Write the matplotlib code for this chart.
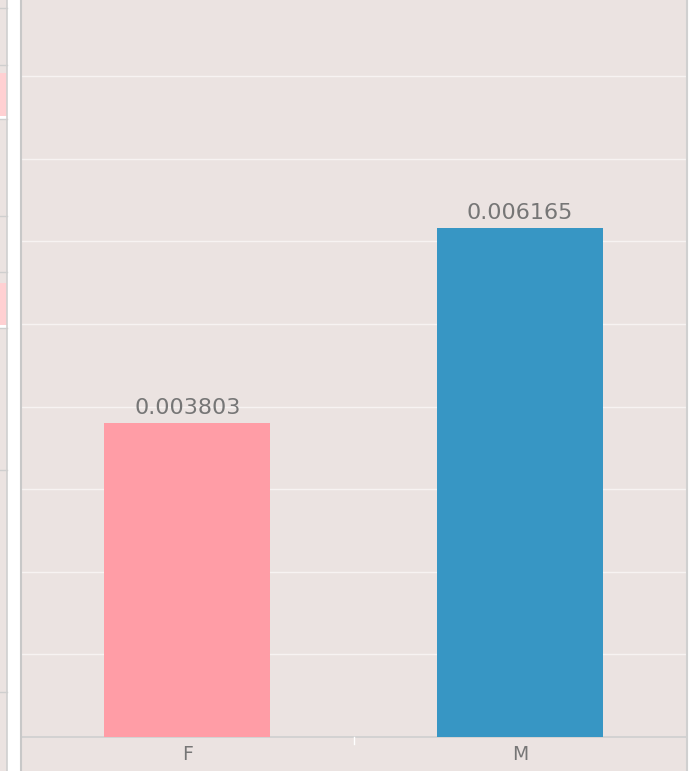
import matplotlib
matplotlib.use("Agg")
import matplotlib.pyplot as plt
from matplotlib.patches import Rectangle
from matplotlib.lines import Line2D
from matplotlib.transforms import offset_copy

categories = ["F", "M"]
values = [0.003803, 0.006165]
labels = ["0.003803", "0.006165"]
colors = ["#FF9DA6", "#3796C4"]

W, H = 695, 771
fig = plt.figure(figsize=(W / 100, H / 100), dpi=100)
fig.patch.set_facecolor("white")

def fx(px):
    return px / W

def fy(py):
    return 1 - py / H

# left strip decorations (cropped neighbouring panel)
fig.add_artist(Rectangle((0, 0), fx(7), 1, transform=fig.transFigure,
                         facecolor="#EBE3E1", edgecolor="none"))
for (y0, y1) in [(73, 116), (283, 325)]:
    fig.add_artist(Rectangle((0, fy(y1)), fx(7), fy(y0) - fy(y1), transform=fig.transFigure,
                             facecolor="#FFD0D2", edgecolor="none"))
for (y0, y1) in [(116, 119), (325, 328)]:
    fig.add_artist(Rectangle((0, fy(y1)), fx(7), fy(y0) - fy(y1), transform=fig.transFigure,
                             facecolor="white", edgecolor="none"))
for yy in [8, 65, 119, 216, 272, 328, 470, 692]:
    fig.add_artist(Line2D([0, fx(7)], [fy(yy), fy(yy)], transform=fig.transFigure,
                          color="#CFCFCF", lw=1))
fig.add_artist(Line2D([fx(6.5), fx(6.5)], [0, 1], transform=fig.transFigure, color="#CFCFCF", lw=1.2))
fig.add_artist(Rectangle((fx(7), 0), fx(13), 1, transform=fig.transFigure,
                         facecolor="white", edgecolor="none"))

# main background panel
fig.add_artist(Rectangle((fx(21), 0), fx(666), 1, transform=fig.transFigure,
                         facecolor="#EBE3E1", edgecolor="none", zorder=0))
fig.add_artist(Line2D([fx(20.5), fx(20.5)], [0, 1], transform=fig.transFigure, color="#C8C8C8", lw=1.5))
fig.add_artist(Line2D([fx(687), fx(687)], [0, 1], transform=fig.transFigure, color="#D0D0D0", lw=1.5))

ax = fig.add_axes([fx(21), fy(737), fx(665), fy(0) - fy(737)])
ax.set_facecolor("#EBE3E1")
x = list(range(len(categories)))
ax.bar(x, values, width=0.5, color=colors, zorder=3)
lab_tr = offset_copy(ax.transData, fig=fig, x=0, y=9 * 72 / 100, units="points")
for xi, v, lab in zip(x, values, labels):
    ax.text(xi, v, lab, ha="center", va="baseline", fontsize=16,
            color="#767676", family="DejaVu Sans", zorder=4, transform=lab_tr)

ax.set_xlim(-0.5, 1.5)
ax.set_ylim(0, 0.00892)
ax.set_yticks([0.001 * i for i in range(1, 9)])
ax.yaxis.grid(True, color="#F7F3F2", lw=1, zorder=1)
ax.set_yticklabels([])
ax.tick_params(axis="y", length=0)
ax.set_xticks(x)
ax.set_xticklabels(categories, fontsize=13.5, color="#767676")
ax.tick_params(axis="x", length=0, pad=6)
for s in ["top", "right", "left"]:
    ax.spines[s].set_visible(False)
ax.spines["bottom"].set_color("#CFCFCF")
ax.spines["bottom"].set_linewidth(1.2)
ax.plot([0.5, 0.5], [0, -0.00008], color="white", lw=1, clip_on=False, zorder=5)

fig.savefig("out.png", dpi=100, facecolor=fig.get_facecolor())
